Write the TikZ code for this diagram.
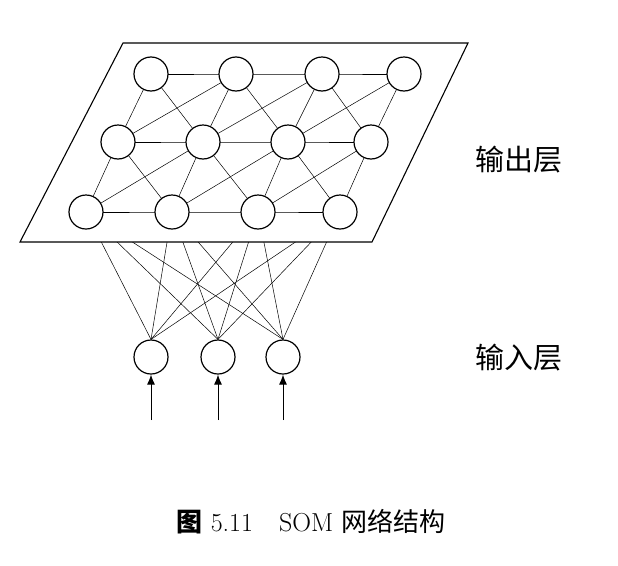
\documentclass[tikz,border=0pt]{standalone}
\usepackage{fontspec}
\newfontfamily\cjk{Noto Sans CJK SC}
\usetikzlibrary{arrows.meta,calc}

\begin{document}
\begin{tikzpicture}[x=1pt,y=-1pt,
    neuron/.style={circle, draw, line width=1.2pt, fill=white, minimum size=34pt, inner sep=0pt},
    link/.style={line width=0.5pt},
    feed/.style={-{Latex[length=10pt,width=8pt]}, line width=1pt},
    label/.style={font=\cjk\fontsize{29}{32}\selectfont}]
  % --- Canvas ---
  \useasboundingbox (0,0) rectangle (618,565);

  % --- 1. Input neurons ---
  \foreach \x [count=\i] in {151,218,283} {
    \node[neuron] (in\i) at (\x,357) {};
    \coordinate (src\i) at (\x,420);
    \draw[feed] (src\i) -- (in\i);
  }

  % --- 2. Output grid positions ---
  \foreach \x [count=\j] in {151,236,322,404} \coordinate (t\j) at (\x,74);
  \foreach \x [count=\j] in {118,203,288,371} \coordinate (m\j) at (\x,142);
  \foreach \x [count=\j] in {86,172,258,340} \coordinate (b\j) at (\x,212);

  % --- 3. Input-to-output links (hidden behind the plane) ---
  \foreach \i in {1,2,3}
    \foreach \j in {1,2,3,4}
      \draw[link] (in\i.north) -- (b\j);

  % --- 4. The output plane ---
  \filldraw[fill=white, line width=1.1pt] (123,43) coordinate (p1) -- (468,43) coordinate (p2)
    -- (372,242) coordinate (p3) -- (20,242) coordinate (p4) -- cycle;

  % --- 5. Lateral links ---
  \foreach \r in {t,m,b} {
    \draw[link, line width=0.8pt] (\r1) -- (\r2) -- (\r3) -- (\r4);
  }
  \foreach \j in {1,...,4} {
    \draw[link] (t\j) -- (m\j);
    \draw[link] (m\j) -- (b\j);
  }
  \foreach \j [evaluate=\j as \k using int(\j+1)] in {1,2,3} {
    \draw[link] (t\j) -- (m\k);
    \draw[link] (m\j) -- (t\k);
    \draw[link] (m\j) -- (b\k);
    \draw[link] (b\j) -- (m\k);
  }

  % --- 6. Output neurons ---
  \foreach \r in {t,m,b}
    \foreach \j in {1,...,4}
      \node[neuron] (n\r\j) at (\r\j) {};

  % --- 7. Labels ---
  \node[label] (outlbl) at (519,160) {输出层};
  \node[label] (inlbl) at (519,358) {输入层};
  \node[font=\fontsize{26}{30}\selectfont] (caption) at (311,522)
    {{\cjk\bfseries 图} 5.11\quad SOM {\cjk 网络结构}};
\end{tikzpicture}
\end{document}
